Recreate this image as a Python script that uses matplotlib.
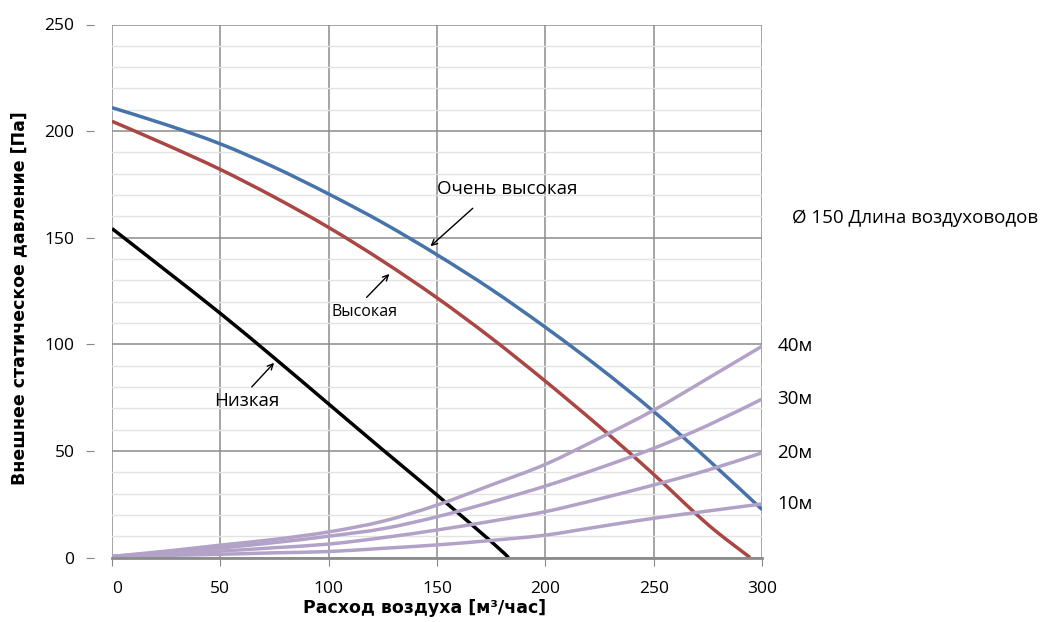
import numpy as np
import matplotlib.pyplot as plt
from matplotlib.path import Path
from matplotlib.patches import PathPatch

plt.rcParams['font.family'] = ['Open Sans', 'DejaVu Sans']

# расход воздуха, м3/час
flow = [0, 25, 50, 75, 100, 125, 150, 175, 200, 225, 250, 275, 300]

# кривые вентилятора
very_high_x = flow
very_high_y = [211, 203, 194, 183, 170.5, 157, 142, 125.8, 108, 89, 68.5, 46, 22.5]
high_x = [0, 25, 50, 75, 100, 125, 150, 175, 200, 225, 250, 275, 294.5]
high_y = [204.6, 193.6, 182, 169, 154.8, 139, 121.8, 103, 82.7, 61.4, 39, 15.5, 0]
low_x = [0, 25, 50, 75, 100, 125, 150, 175, 183]
low_y = [154.3, 134.5, 114.5, 93.5, 72, 50.5, 29.3, 7.5, 0]

# сопротивление воздуховодов
duct_labels = ['40м', '30м', '20м', '10м']
duct_40 = [0.5, 3, 5.8, 8.5, 12, 17, 24.6, 34, 43.7, 56, 69.1, 84, 99.1]
duct_30 = [0.5, 2.5, 4.5, 7, 10, 13.5, 19.1, 26, 33.5, 42, 51.2, 62, 74.3]
duct_20 = [0.5, 1.8, 3, 4.6, 6.3, 9.3, 12.9, 17, 21.5, 27.5, 34, 41, 49.1]
duct_10 = [0.5, 1, 1.5, 2.2, 2.8, 4.3, 5.9, 8, 10.5, 14.5, 18.4, 21.8, 25.1]


def smooth(ax, xs, ys, color):
    # сглаженная линия как в Excel (Catmull-Rom -> Bezier)
    p = np.column_stack([xs, ys]).astype(float)
    verts = [p[0]]
    codes = [Path.MOVETO]
    n = len(p)
    for i in range(n - 1):
        p0 = p[max(i - 1, 0)]
        p1 = p[i]
        p2 = p[i + 1]
        p3 = p[min(i + 2, n - 1)]
        verts += [p1 + (p2 - p0) / 6, p2 - (p3 - p1) / 6, p2]
        codes += [Path.CURVE4] * 3
    ax.add_patch(PathPatch(Path(verts, codes), fill=False, edgecolor=color,
                           lw=2.5, capstyle='butt'))


fig = plt.figure(figsize=(10.5, 6.22), dpi=100)
ax = fig.add_axes([112/1050, 1 - 557.5/622, 650/1050, 533/622])

smooth(ax, very_high_x, very_high_y, '#4673aa')
smooth(ax, high_x, high_y, '#aa4643')
smooth(ax, low_x, low_y, 'black')
for d in [duct_40, duct_30, duct_20, duct_10]:
    smooth(ax, flow, d, '#b3a2c7')

ax.set_xlim(0, 300)
ax.set_ylim(0, 250)
ax.set_xticks(np.arange(0, 301, 50))
ax.set_yticks(np.arange(0, 251, 50))
ax.set_yticks(np.arange(0, 251, 10), minor=True)
ax.tick_params(axis='y', which='minor', length=0)
ax.tick_params(axis='both', which='major', labelsize=12.5, color='#888888', length=6)
ax.tick_params(axis='y', which='major', pad=8)
ax.tick_params(axis='x', which='major', pad=11)
ax.get_xticklabels()[0].set_ha('left')

ax.grid(True, axis='y', which='minor', color='#e3e3e3', lw=1)
ax.grid(True, axis='both', which='major', color='#8c8c8c', lw=1.1)
ax.set_axisbelow(True)

ax.spines['top'].set_visible(False)
ax.spines['right'].set_visible(False)
ax.spines['left'].set_position(('outward', 13))
ax.spines['left'].set_color('none')
ax.spines['bottom'].set_color('#8c8c8c')
ax.spines['bottom'].set_linewidth(2)

ax.set_xlabel('Расход воздуха [м³/час]', fontsize=12.5, fontweight='bold',
              family='DejaVu Sans')
ax.set_ylabel('Внешнее статическое давление [Па]', fontsize=12.5, fontweight='bold',
              family='DejaVu Sans')
ax.xaxis.set_label_coords((425 - 112) / 650, (557.5 - 599) / 533)
ax.yaxis.set_label_coords((28 - 112) / 650, (557.5 - 298) / 533)

arrow = dict(arrowstyle='->', color='black', lw=1, shrinkA=0, shrinkB=0)
ax.annotate('', xy=(147, 146), xytext=(166.5, 163.8), arrowprops=arrow)
ax.text(150, 173, 'Очень высокая', fontsize=13.5, ha='left', va='center')
ax.annotate('', xy=(128, 133), xytext=(117.5, 122), arrowprops=arrow)
ax.text(116.5, 115, 'Высокая', fontsize=11.5, ha='center', va='center')
ax.annotate('', xy=(74.8, 91.3), xytext=(64.5, 80), arrowprops=arrow)
ax.text(62.3, 73.4, 'Низкая', fontsize=13.5, ha='center', va='center')

fig.text(792/1050, 1 - 218/622, 'Ø 150 Длина воздуховодов', fontsize=13.5, ha='left', va='center')
for lab, d in zip(duct_labels, [duct_40, duct_30, duct_20, duct_10]):
    ax.annotate(lab, xy=(300, d[-1]), xytext=(11, 0), textcoords='offset points',
                fontsize=13.5, ha='left', va='center', annotation_clip=False)

fig.savefig('out.png', dpi=100)
